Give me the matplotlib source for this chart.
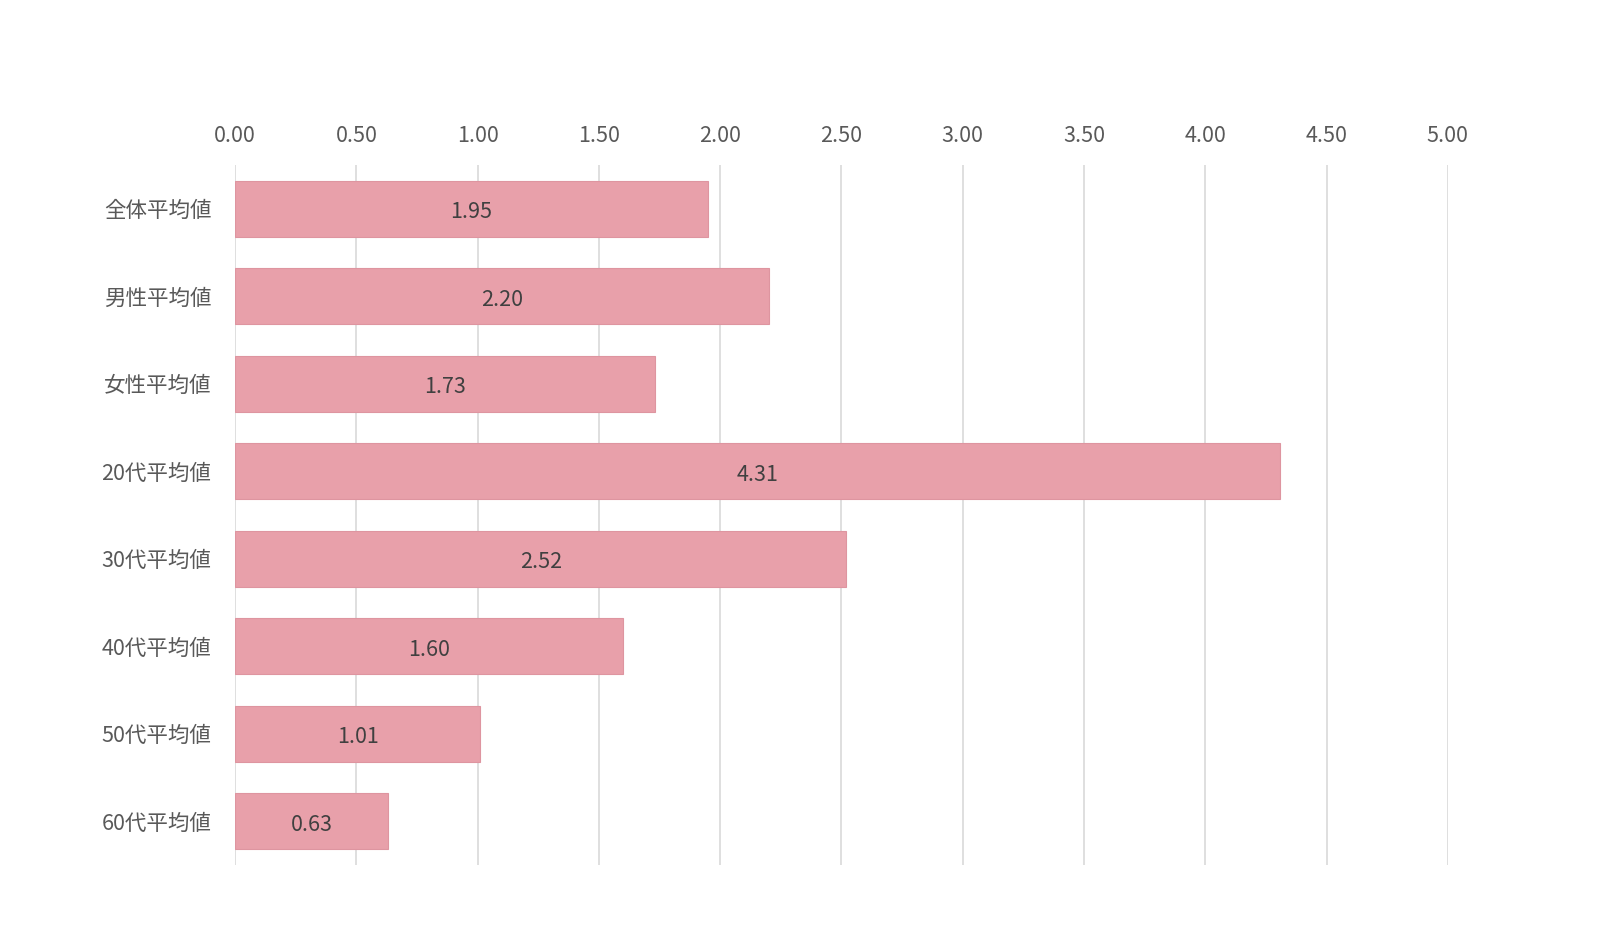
import matplotlib
matplotlib.use('Agg')
import matplotlib.pyplot as plt

plt.rcParams['font.family'] = ['Noto Sans CJK JP', 'DejaVu Sans']

# data
categories = ['全体平均値', '男性平均値', '女性平均値', '20代平均値',
              '30代平均値', '40代平均値', '50代平均値', '60代平均値']
values = [1.95, 2.20, 1.73, 4.31, 2.52, 1.60, 1.01, 0.63]
ticks = [0.0, 0.5, 1.0, 1.5, 2.0, 2.5, 3.0, 3.5, 4.0, 4.5, 5.0]

fig = plt.figure(figsize=(16, 9.38), dpi=100)
ax = fig.add_axes([0.1469, 0.0778, 0.758, 0.7463])

pos = list(range(len(categories)))
bars = ax.barh(pos, values, height=0.645, color='#E8A0AA',
               edgecolor='#DE95A0', linewidth=0.8, zorder=2)

# value labels in the middle of each bar
for b, v in zip(bars, values):
    ax.text(b.get_width() / 2, b.get_y() + b.get_height() / 2 + 0.04,
            f'{v:.2f}', ha='center', va='center', fontsize=15.5,
            color='#404040', zorder=3)

ax.set_xlim(0, 5.0)
ax.set_ylim(len(categories) - 0.5, -0.5)
ax.set_xticks(ticks)
ax.set_xticklabels([f'{t:.2f}' for t in ticks])
ax.set_yticks(pos)
ax.set_yticklabels(categories)

ax.xaxis.tick_top()
ax.tick_params(axis='x', length=0, pad=13, labelsize=15.5, labelcolor='#595959')
ax.tick_params(axis='y', length=0, pad=17, labelsize=15.5, labelcolor='#595959')
ax.grid(axis='x', color='#D9D9D9', linewidth=1.2, zorder=0)
ax.set_axisbelow(True)
for s in ax.spines.values():
    s.set_visible(False)

fig.savefig('out.png', dpi=100, facecolor='white')
